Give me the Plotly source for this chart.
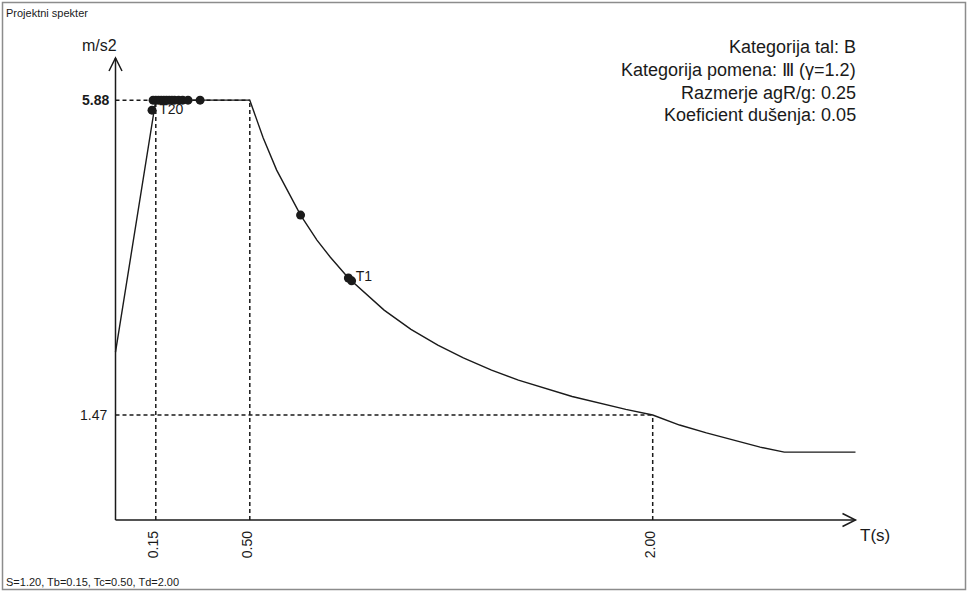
import plotly.graph_objects as go

W, H = 969, 594

# ---- data ----
period = [0.00, 0.15, 0.50, 0.55, 0.60, 0.689, 0.75, 0.80, 0.867, 0.879, 0.95, 1.00,
          1.10, 1.20, 1.295, 1.35, 1.40, 1.50, 1.55, 1.60, 1.65, 1.70, 1.90, 1.95,
          2.00, 2.10, 2.15, 2.20, 2.40, 2.49, 2.755]
accel = [2.35, 5.88, 5.88, 5.35, 4.90, 4.27, 3.92, 3.68, 3.39, 3.35, 3.10, 2.94,
         2.67, 2.45, 2.27, 2.18, 2.10, 1.96, 1.90, 1.84, 1.78, 1.73, 1.55, 1.51,
         1.47, 1.33, 1.27, 1.22, 1.02, 0.95, 0.95]

mode_T = [0.136, 0.14, 0.15, 0.16, 0.17, 0.18, 0.19, 0.20, 0.21, 0.22, 0.235, 0.25,
          0.27, 0.315, 0.689, 0.867, 0.879]
mode_Sa = [5.74, 5.88, 5.88, 5.88, 5.88, 5.88, 5.88, 5.88, 5.88, 5.88, 5.88, 5.88,
           5.88, 5.88, 4.27, 3.39, 3.35]

label_names = ["T20", "T1"]
label_T = [0.136, 0.867]
label_Sa = [5.74, 3.39]

Tb, Tc, Td = 0.15, 0.50, 2.00
Sa_plateau = 5.88
Sa_Td = 1.47
x_tick_vals = [Tb, Tc, Td]
x_tick_text = ["0.15", "0.50", "2.00"]

info_lines = ["Kategorija tal: B",
              "Kategorija pomena: Ⅲ (γ=1.2)",
              "Razmerje agR/g: 0.25",
              "Koeficient dušenja: 0.05"]
title_text = "Projektni spekter"
footer_text = "S=1.20, Tb=0.15, Tc=0.50, Td=2.00"

# ---- layout scale (pixels per unit) ----
X0_PX, Y0_PX = 115.5, 520.0
PX_X, PX_Y = 268.6, 71.4
X_END = 2.755
Y_END = (Y0_PX - 58) / PX_Y

FONT = "Arial, Liberation Sans, sans-serif"
INK = "#1a1a1a"

fig = go.Figure()

dash = dict(color=INK, width=1.5, dash="4px,3px")
# dashed guides
fig.add_trace(go.Scatter(x=[0, Tc], y=[Sa_plateau, Sa_plateau], mode="lines", line=dash, hoverinfo="skip"))
fig.add_trace(go.Scatter(x=[0, Td], y=[Sa_Td, Sa_Td], mode="lines", line=dash, hoverinfo="skip"))
fig.add_trace(go.Scatter(x=[Tb, Tb], y=[0, Sa_plateau], mode="lines", line=dash, hoverinfo="skip"))
fig.add_trace(go.Scatter(x=[Tc, Tc], y=[0, Sa_plateau], mode="lines", line=dash, hoverinfo="skip"))
fig.add_trace(go.Scatter(x=[Td, Td], y=[0, Sa_Td], mode="lines", line=dash, hoverinfo="skip"))

# spectrum curve
fig.add_trace(go.Scatter(x=period, y=accel, mode="lines", line=dict(color=INK, width=1.4)))
# mode points
fig.add_trace(go.Scatter(x=mode_T, y=mode_Sa, mode="markers",
                         marker=dict(color=INK, size=9)))
fig.add_trace(go.Scatter(x=label_T, y=label_Sa, mode="markers+text", text=label_names,
                         marker=dict(size=10, opacity=0),
                         textposition="middle right",
                         textfont=dict(family=FONT, size=14, color=INK)))

shapes = []
axis_line = dict(color=INK, width=1.5)
shapes.append(dict(type="line", xref="x", yref="y", x0=0, y0=0, x1=X_END, y1=0, line=axis_line))
shapes.append(dict(type="line", xref="x", yref="y", x0=0, y0=0, x1=0, y1=Y_END, line=axis_line))
# arrow heads (chevrons)
hb, hw = 13.0, 6.5
shapes.append(dict(type="path", xref="x", yref="y",
                   path=f"M{X_END - hb / PX_X},{hw / PX_Y} L{X_END},0 L{X_END - hb / PX_X},{-hw / PX_Y}",
                   line=axis_line))
shapes.append(dict(type="path", xref="x", yref="y",
                   path=f"M{-hw / PX_X},{Y_END - hb / PX_Y} L0,{Y_END} L{hw / PX_X},{Y_END - hb / PX_Y}",
                   line=axis_line))
# border
shapes.append(dict(type="rect", xref="paper", yref="paper",
                   x0=2.5 / W, x1=1 - 3.5 / W, y0=1 - 589.5 / H, y1=1 - 2.5 / H,
                   line=dict(color="#8c8c8c", width=1.5)))

ann = []
ann.append(dict(x=0, y=Sa_plateau, xref="x", yref="y", text="<b>5.88</b>", showarrow=False,
                xanchor="right", xshift=-5, font=dict(family=FONT, size=14, color=INK)))
ann.append(dict(x=0, y=Sa_Td, xref="x", yref="y", text="1.47", showarrow=False,
                xanchor="right", xshift=-7, font=dict(family=FONT, size=14, color=INK)))
for v, t in zip(x_tick_vals, x_tick_text):
    ann.append(dict(x=v, y=0, xref="x", yref="y", text=t, showarrow=False, textangle=-90,
                    xanchor="center", yanchor="top", xshift=-3, yshift=-9,
                    font=dict(family=FONT, size=14, color=INK)))
ann.append(dict(x=0, y=Y_END, xref="x", yref="y", text="m/s2", showarrow=False,
                xanchor="right", yanchor="bottom", xshift=3, yshift=2,
                font=dict(family=FONT, size=16, color=INK)))
ann.append(dict(x=X_END, y=0, xref="x", yref="y", text="T(s)", showarrow=False,
                xanchor="left", yanchor="top", xshift=3, yshift=-4,
                font=dict(family=FONT, size=17, color=INK)))
info_y = [47, 70, 93, 115]
for line, py in zip(info_lines, info_y):
    ann.append(dict(x=858 / W, y=1 - py / H, xref="paper", yref="paper", text=line,
                    showarrow=False, xanchor="right", yanchor="middle",
                    font=dict(family=FONT, size=18, color=INK)))
ann.append(dict(x=4 / W, y=1 - 13 / H, xref="paper", yref="paper", text=title_text,
                showarrow=False, xanchor="left", yanchor="middle",
                font=dict(family=FONT, size=11, color=INK)))
ann.append(dict(x=4 / W, y=1 - 582 / H, xref="paper", yref="paper", text=footer_text,
                showarrow=False, xanchor="left", yanchor="middle",
                font=dict(family=FONT, size=11, color=INK)))

fig.update_layout(
    width=W, height=H,
    margin=dict(l=0, r=0, t=0, b=0),
    paper_bgcolor="white", plot_bgcolor="white",
    showlegend=False,
    xaxis=dict(visible=False, range=[-X0_PX / PX_X, (W - X0_PX) / PX_X], fixedrange=True),
    yaxis=dict(visible=False, range=[-(H - Y0_PX) / PX_Y, Y0_PX / PX_Y], fixedrange=True),
    shapes=shapes, annotations=ann,
)

fig.write_html("out.html", config={"displayModeBar": False},
               post_script="document.body.style.margin='0px';document.body.style.overflow='hidden';")
